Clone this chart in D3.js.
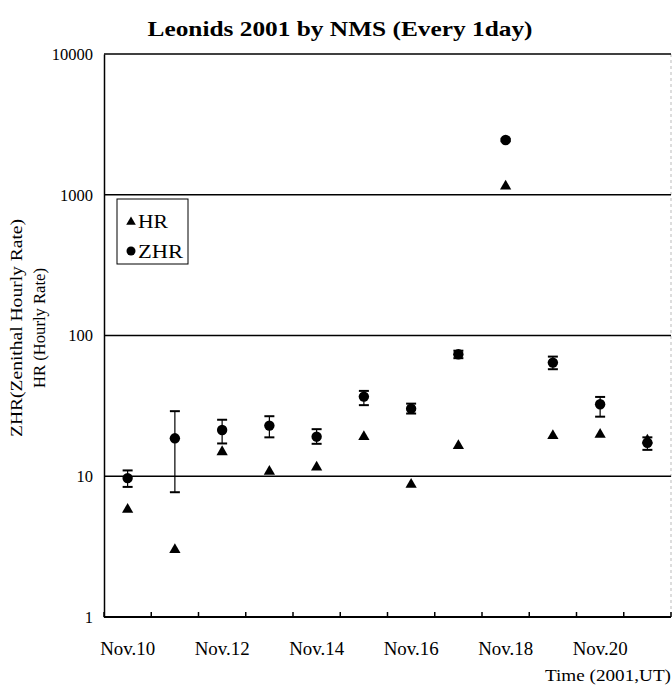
<head>
    <meta charset="utf-8">
    <style> body { margin: 0; background: #fff; } text { font-family: "Liberation Serif", "DejaVu Serif", serif; fill: #000; } </style>
    <script src="https://d3js.org/d3.v7.min.js"></script>
</head>
<body>
    <div id="chart"></div>
    <script>
        const days = ["Nov.10", "Nov.11", "Nov.12", "Nov.13", "Nov.14", "Nov.15",
                      "Nov.16", "Nov.17", "Nov.18", "Nov.19", "Nov.20", "Nov.21"];
        const dayLabels = ["Nov.10", "Nov.12", "Nov.14", "Nov.16", "Nov.18", "Nov.20"];
        const hr = [5.8, 3.0, 14.9, 10.8, 11.6, 19.1, 8.75, 16.5, 1150, 19.4, 19.8, 18];
        const zhr = [9.7, 18.6, 21.3, 22.9, 19.1, 36.8, 30.2, 73.6, 2450, 64.2, 32.5, 17.3];
        const zhrLow = [8.4, 7.7, 17.1, 18.9, 17.0, 32.0, 27.9, 69, 2400, 57.6, 26.5, 15.4];
        const zhrHigh = [11.0, 29, 25.2, 26.7, 21.6, 40.4, 32.8, 78, 2500, 70.8, 36.6, 18.9];
        const yTicks = [1, 10, 100, 1000, 10000];

        const width = 672, height = 685;
        const pLeft = 104, pRight = 671, pTop = 54, pBottom = 617;

        const svg = d3.select("#chart").append("svg")
            .attr("width", width)
            .attr("height", height);

        const x = d3.scaleBand().domain(days).range([pLeft, pRight]);
        const y = d3.scaleLog().domain([1, 10000]).range([pBottom, pTop]);

        // title
        svg.append("text")
            .attr("x", 340).attr("y", 36)
            .attr("text-anchor", "middle")
            .style("font-size", "22px")
            .style("font-weight", "bold")
            .attr("textLength", 385)
            .attr("lengthAdjust", "spacingAndGlyphs")
            .text("Leonids 2001 by NMS (Every 1day)");

        // right border (light, dotted)
        svg.append("line")
            .attr("x1", pRight).attr("x2", pRight)
            .attr("y1", pTop).attr("y2", pBottom)
            .attr("stroke", "#bbb")
            .attr("stroke-dasharray", "3,3");

        // gridlines incl. top border
        svg.selectAll(".grid")
            .data([10, 100, 1000, 10000])
            .enter().append("line")
            .attr("x1", pLeft).attr("x2", pRight)
            .attr("y1", d => y(d)).attr("y2", d => y(d))
            .attr("stroke", "#000")
            .attr("stroke-width", 1.5);

        // y axis
        const yAxis = svg.append("g")
            .attr("transform", "translate(" + pLeft + ",0)")
            .call(d3.axisLeft(y).tickValues(yTicks).tickSize(0).tickPadding(11).tickFormat(d3.format("d")));
        yAxis.select(".domain").attr("stroke", "#000").attr("stroke-width", 1.5);
        yAxis.selectAll("text").style("font-size", "16.5px");

        // x axis
        const xAxis = svg.append("g")
            .attr("transform", "translate(0," + pBottom + ")");
        xAxis.append("line")
            .attr("x1", pLeft).attr("x2", pRight)
            .attr("stroke", "#000").attr("stroke-width", 2);
        xAxis.selectAll(".tick")
            .data(days.concat(["end"]))
            .enter().append("line")
            .attr("x1", (d, i) => i < days.length ? x(d) : pRight)
            .attr("x2", (d, i) => i < days.length ? x(d) : pRight)
            .attr("y1", 0).attr("y2", -5)
            .attr("stroke", "#000").attr("stroke-width", 1.5);
        xAxis.selectAll(".lab")
            .data(dayLabels)
            .enter().append("text")
            .attr("x", d => x(d) + x.bandwidth() / 2)
            .attr("y", 38)
            .attr("text-anchor", "middle")
            .attr("textLength", 55)
            .attr("lengthAdjust", "spacingAndGlyphs")
            .style("font-size", "18px")
            .text(d => d);

        svg.append("text")
            .attr("x", 671).attr("y", 681)
            .attr("text-anchor", "end")
            .attr("textLength", 126)
            .attr("lengthAdjust", "spacingAndGlyphs")
            .style("font-size", "16.5px")
            .text("Time (2001,UT)");

        // y label
        const yl = svg.append("g").attr("transform", "translate(0,328) rotate(-90)");
        yl.append("text").attr("x", 0).attr("y", 22)
            .attr("text-anchor", "middle")
            .attr("textLength", 218).attr("lengthAdjust", "spacingAndGlyphs")
            .style("font-size", "17.5px")
            .text("ZHR(Zenithal Hourly Rate)");
        yl.append("text").attr("x", 0).attr("y", 45)
            .attr("text-anchor", "middle")
            .attr("textLength", 120).attr("lengthAdjust", "spacingAndGlyphs")
            .style("font-size", "17.5px")
            .text("HR (Hourly Rate)");

        const cx = d => x(d) + x.bandwidth() / 2;
        const tri = d3.symbol().type(d3.symbolTriangle).size(55);

        // error bars
        const eb = svg.append("g").attr("stroke", "#000");
        days.forEach(function(d, i) {
            eb.append("line")
                .attr("x1", cx(d)).attr("x2", cx(d))
                .attr("y1", y(zhrLow[i])).attr("y2", y(zhrHigh[i]))
                .attr("stroke-width", 1.2);
            [zhrLow[i], zhrHigh[i]].forEach(function(v) {
                eb.append("line")
                    .attr("x1", cx(d) - 5).attr("x2", cx(d) + 5)
                    .attr("y1", y(v)).attr("y2", y(v))
                    .attr("stroke-width", 2);
            });
        });

        // HR triangles
        svg.selectAll(".hr")
            .data(hr)
            .enter().append("path")
            .attr("d", tri)
            .attr("transform", (v, i) => "translate(" + cx(days[i]) + "," + y(v) + ")")
            .attr("fill", "#000");

        // ZHR circles
        svg.selectAll(".zhr")
            .data(zhr)
            .enter().append("circle")
            .attr("cx", (v, i) => cx(days[i]))
            .attr("cy", v => y(v))
            .attr("r", 5.2)
            .attr("fill", "#000");

        // legend
        const lg = svg.append("g");
        lg.append("rect")
            .attr("x", 117).attr("y", 199)
            .attr("width", 71).attr("height", 65)
            .attr("fill", "#fff")
            .attr("stroke", "#000").attr("stroke-width", 1);
        lg.append("path").attr("d", d3.symbol().type(d3.symbolTriangle).size(40))
            .attr("transform", "translate(131,222)");
        lg.append("text").attr("x", 138).attr("y", 228).style("font-size", "18px")
            .attr("textLength", 30).attr("lengthAdjust", "spacingAndGlyphs").text("HR");
        lg.append("circle").attr("cx", 131).attr("cy", 251).attr("r", 4.5);
        lg.append("text").attr("x", 138).attr("y", 258).style("font-size", "18px")
            .attr("textLength", 45).attr("lengthAdjust", "spacingAndGlyphs").text("ZHR");
    </script>
</body>
